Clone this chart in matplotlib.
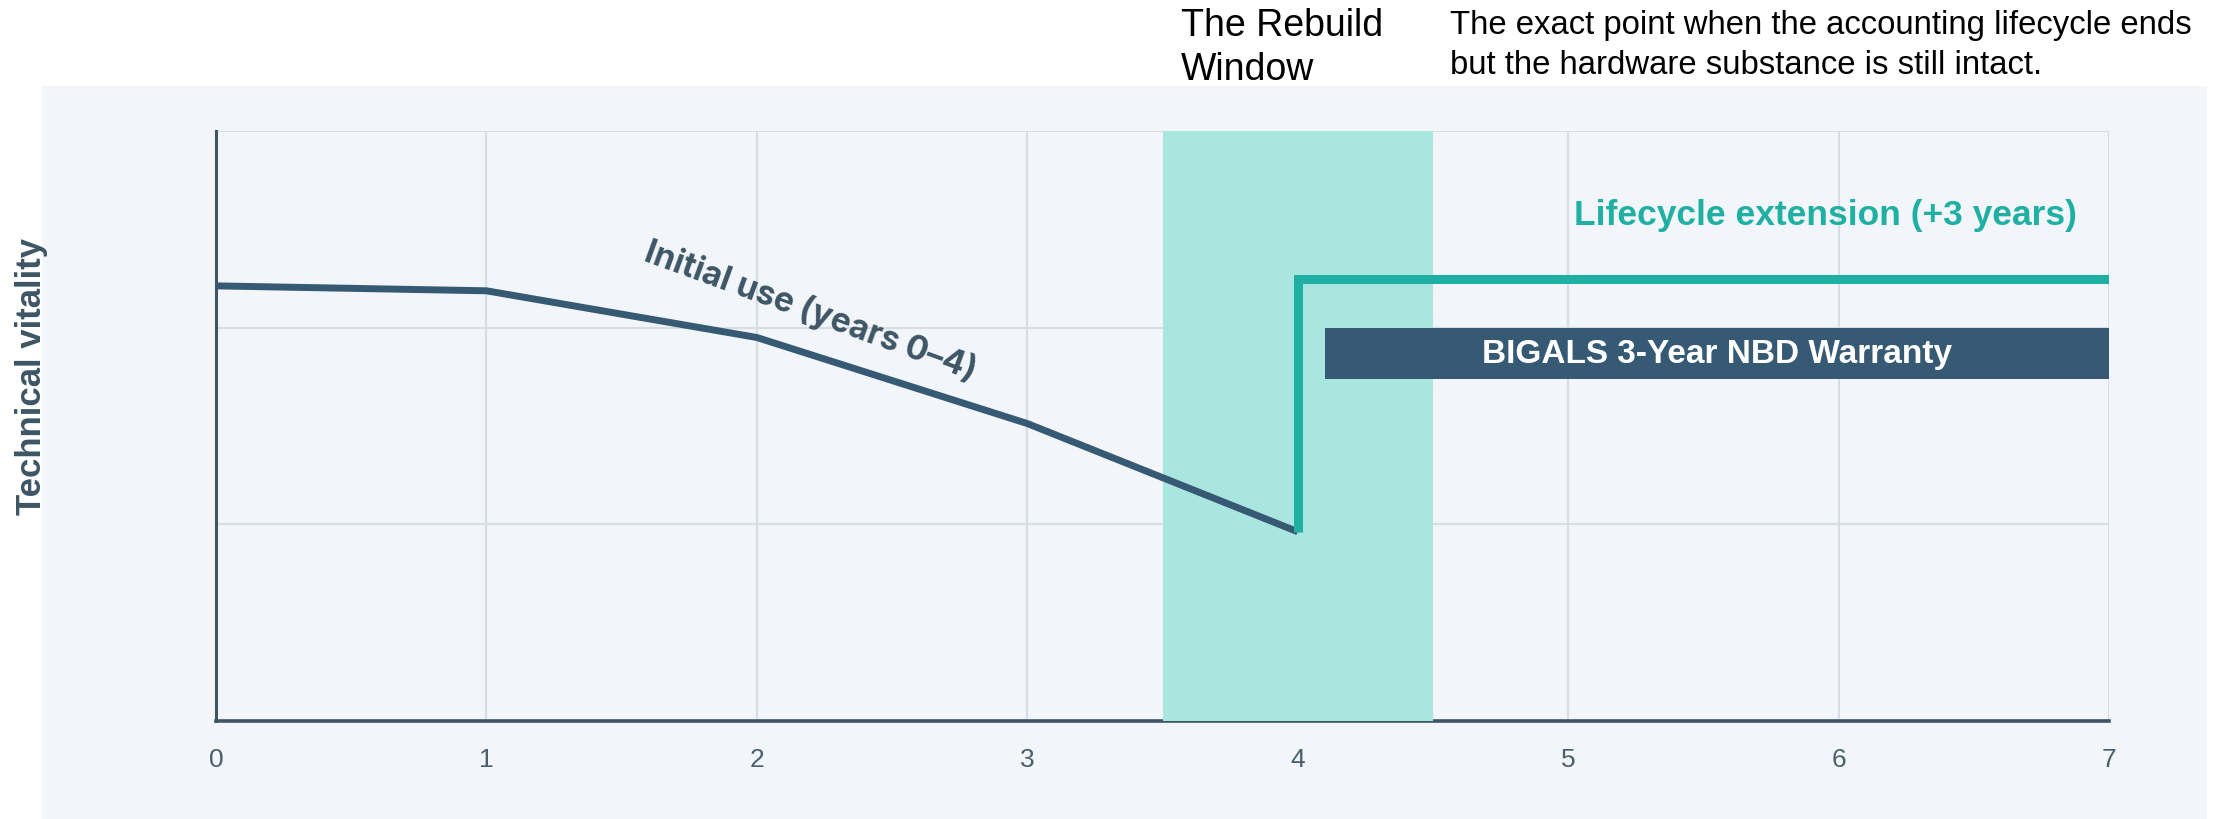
import matplotlib.pyplot as plt
from matplotlib.patches import Rectangle

# values (vitality on a 0-120 scale)
years = [0, 1, 2, 3, 4]
vitality = [88.5, 87.5, 78, 60.5, 38.5]
ext_years = [4, 4, 7]
ext_vitality = [38.5, 90, 90]
window_start, window_end = 3.5, 4.5
warranty_start, warranty_end = 4.1, 7
warranty_low, warranty_high = 69.5, 80
xticks = [0, 1, 2, 3, 4, 5, 6, 7]
yticks = [0, 40, 80, 120]

dark = '#365A73'
teal = '#20AFA3'
spine_col = '#3F5564'
grid_col = '#D6DDE3'
panel_col = '#F2F6FA'
sans = ['Liberation Sans', 'DejaVu Sans']

fig = plt.figure(figsize=(22.31, 8.2), dpi=100)
fig.patch.set_facecolor('white')
fig.patches.append(Rectangle((42 / 2231, 0), (2207 - 42) / 2231, (820 - 87) / 820,
                             transform=fig.transFigure, facecolor=panel_col,
                             edgecolor='none', zorder=-5))

ax = fig.add_axes([216 / 2231, (820 - 722) / 820, (2109 - 216) / 2231, (722 - 132) / 820])
ax.set_facecolor(panel_col)
ax.set_xlim(0, 7)
ax.set_ylim(0, 120)
ax.set_xticks(xticks)
ax.set_yticks(yticks)
ax.set_yticklabels([])
ax.grid(True, color=grid_col, lw=1.5, zorder=0)
ax.set_axisbelow(True)
ax.tick_params(axis='both', length=0)
ax.tick_params(axis='x', pad=19, labelsize=19, labelcolor='#4A5E6B')
for lab in ax.get_xticklabels():
    lab.set_family(sans)
for side in ['top', 'right']:
    ax.spines[side].set_visible(False)
ax.spines['left'].set_color(spine_col)
ax.spines['left'].set_linewidth(2.2)
ax.spines['bottom'].set_color(spine_col)
ax.spines['bottom'].set_linewidth(2.6)

# rebuild window
ax.axvspan(window_start, window_end, color='#A9E6DF', lw=0, zorder=2.6)

# warranty bar
ax.barh((warranty_low + warranty_high) / 2, warranty_end - warranty_start,
        height=warranty_high - warranty_low, left=warranty_start,
        color=dark, zorder=3)
ax.text((warranty_start + warranty_end) / 2, (warranty_low + warranty_high) / 2,
        'BIGALS 3-Year NBD Warranty', color='white', fontsize=24,
        fontweight='bold', family=sans, ha='center', va='center', zorder=6)

# lines
ax.plot(years, vitality, color=dark, lw=5, zorder=4, solid_capstyle='butt')
ax.plot(ext_years, ext_vitality, color=teal, lw=6.5, zorder=5,
        solid_joinstyle='miter', solid_capstyle='butt')

ax.text(5.95, 103, 'Lifecycle extension (+3 years)', color=teal, fontsize=25.5,
        fontweight='bold', family=sans, ha='center', va='center')
ax.text(2.2, 83.5, 'Initial use (years 0\u20134)', color='#3D5564', fontsize=24,
        fontweight='bold', family=['Inter', 'DejaVu Sans'], rotation=-20,
        rotation_mode='anchor', ha='center', va='center')

# y label
fig.text(31 / 2231, (820 - 376) / 820, 'Technical vitality', rotation=90,
         color='#3D5564', fontsize=25, fontweight='bold', family=sans,
         ha='center', va='center')

# header texts
fig.text(1181 / 2231, (820 - 36) / 820, 'The Rebuild', fontsize=27,
         family=sans, color='black', ha='left', va='baseline')
fig.text(1181 / 2231, (820 - 80) / 820, 'Window', fontsize=27,
         family=sans, color='black', ha='left', va='baseline')
fig.text(1450 / 2231, (820 - 34) / 820, 'The exact point when the accounting lifecycle ends',
         fontsize=23.7, family=sans, color='black', ha='left', va='baseline')
fig.text(1450 / 2231, (820 - 74) / 820, 'but the hardware substance is still intact.',
         fontsize=23.7, family=sans, color='black', ha='left', va='baseline')

fig.savefig('out.png', dpi=100)
